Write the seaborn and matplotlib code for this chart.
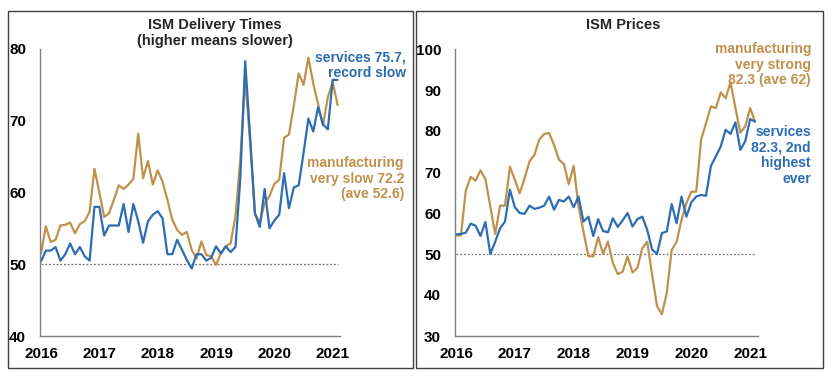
import numpy as np
import pandas as pd
import matplotlib
matplotlib.use("Agg")
import matplotlib.pyplot as plt
import seaborn as sns
from matplotlib.patches import Rectangle

sns.set_theme(style="white")
plt.rcParams['font.family'] = ['Liberation Sans', 'DejaVu Sans']
plt.rcParams['font.weight'] = 'bold'

# ---------------- data (monthly, 62 points) ----------------
year_labels = ["2016", "2017", "2018", "2019", "2020", "2021"]

deliv_mfg = [51.5, 55.3, 53.1, 53.4, 55.4, 55.5, 55.8, 54.3, 55.6, 56.0,
             57.3, 63.3, 60.0, 56.6, 57.1, 59.0, 61.0, 60.5, 61.1, 61.9,
             68.2, 62.0, 64.4, 61.1, 63.1, 61.5, 59.0, 56.2, 54.8, 54.1,
             54.5, 52.0, 50.8, 53.2, 51.3, 51.1, 49.9, 51.5, 52.5, 52.9,
             56.7, 64.6, 76.0, 67.0, 57.1, 55.8, 58.5, 59.5, 61.2, 61.8,
             67.6, 68.1, 72.1, 76.6, 75.0, 78.8, 75.2, 72.3, 69.4, 73.3,
             75.4, 72.2]
deliv_svc = [50.4, 51.9, 51.9, 52.4, 50.5, 51.4, 52.9, 51.4, 52.4, 51.1,
             50.5, 58.0, 58.0, 54.0, 55.4, 55.4, 55.4, 58.4, 54.5, 58.4,
             56.0, 53.0, 56.0, 56.9, 57.4, 56.4, 51.4, 51.4, 53.4, 52.0,
             50.6, 49.4, 51.4, 51.4, 50.5, 50.9, 52.5, 51.5, 52.5, 51.7,
             52.4, 62.0, 78.3, 68.0, 57.1, 55.2, 60.5, 55.0, 56.1, 56.9,
             62.7, 57.8, 60.7, 61.0, 65.5, 70.3, 68.5, 71.9, 69.5, 68.8,
             75.7, 75.7]
price_mfg = [54.5, 54.5, 65.5, 68.8, 67.9, 70.4, 68.3, 61.6, 54.9, 61.8,
             61.8, 71.3, 68.1, 64.8, 68.5, 72.6, 74.2, 77.9, 79.3, 79.5,
             76.6, 73.0, 72.0, 67.0, 71.5, 61.6, 55.5, 49.5, 49.4, 54.1,
             50.0, 53.0, 47.8, 45.1, 45.7, 49.4, 45.5, 46.6, 51.4, 53.0,
             45.0, 37.3, 35.3, 40.6, 51.0, 53.0, 58.3, 62.4, 65.2, 65.2,
             77.9, 81.9, 86.0, 85.6, 89.4, 88.0, 91.9, 85.6, 79.6, 81.1,
             85.6, 82.3]
price_svc = [54.8, 54.9, 55.2, 57.4, 56.9, 54.4, 57.8, 50.0, 53.0, 56.3,
             57.9, 65.7, 61.4, 60.0, 59.8, 61.8, 61.0, 61.3, 61.8, 64.0,
             60.8, 63.2, 62.8, 64.0, 61.4, 64.0, 57.9, 59.1, 54.4, 58.5,
             55.6, 55.3, 58.7, 56.6, 58.2, 60.0, 56.7, 58.5, 59.1, 55.9,
             51.1, 50.0, 55.1, 55.5, 62.2, 57.5, 64.0, 59.1, 62.6, 64.0,
             64.4, 64.2, 71.5, 73.8, 76.2, 80.3, 79.3, 82.1, 75.4, 77.5,
             82.9, 82.3]
neutral = 50

ORANGE = "#C0914B"
BLUE = "#2D6DB2"

idx = np.arange(len(deliv_mfg))
df_deliv = pd.DataFrame({"i": np.concatenate([idx, idx]),
                         "v": deliv_mfg + deliv_svc,
                         "s": ["mfg"] * len(idx) + ["svc"] * len(idx)})
df_price = pd.DataFrame({"i": np.concatenate([idx, idx]),
                         "v": price_mfg + price_svc,
                         "s": ["mfg"] * len(idx) + ["svc"] * len(idx)})

W, H = 832, 377
fig = plt.figure(figsize=(W / 100, H / 100), dpi=100)

def fx(px):
    return px / W

def fy(py):
    return 1 - py / H

# panel frames
for (x0, x1) in [(8, 413), (416, 823)]:
    fig.patches.append(Rectangle((fx(x0), fy(368)), fx(x1 - x0), (368 - 11) / H,
                                 transform=fig.transFigure, fill=False,
                                 edgecolor="#404040", linewidth=1.0))

ax1 = fig.add_axes([fx(40), fy(336), fx(300), 287 / H])
ax2 = fig.add_axes([fx(455), fy(336), fx(302.5), 287 / H])

pal = {"mfg": ORANGE, "svc": BLUE}
for ax, df in [(ax1, df_deliv), (ax2, df_price)]:
    sns.lineplot(data=df, x="i", y="v", hue="s", palette=pal, ax=ax,
                 linewidth=1.6, legend=False)
    ax.hlines(neutral, 0, len(idx) - 1, colors="#707070", linestyles=(0, (1.5, 1.5)),
              linewidth=0.9, zorder=0)
    ax.set_xlim(-0.2, 61.5)
    ax.set_xticks(np.arange(0, 61, 12))
    ax.set_xticklabels(year_labels)
    ax.set_xlabel("")
    ax.set_ylabel("")
    for sp in ["top", "right"]:
        ax.spines[sp].set_visible(False)
    for sp in ["left", "bottom"]:
        ax.spines[sp].set_color("#7f7f7f")
        ax.spines[sp].set_linewidth(1.0)
    ax.tick_params(axis="both", length=0, labelsize=11, colors="black")
    ax.tick_params(axis="x", pad=8)
    ax.tick_params(axis="y", pad=10)
    for lab in ax.get_xticklabels() + ax.get_yticklabels():
        lab.set_fontweight("bold")
    ax.set_facecolor("none")

ax1.set_ylim(40, 80)
ax1.set_yticks([40, 50, 60, 70, 80])
ax2.set_ylim(30, 100)
ax2.set_yticks([30, 40, 50, 60, 70, 80, 90, 100])

# titles
fig.text(fx(215), fy(25), "ISM Delivery Times", ha="center", va="center",
         fontsize=10.5, fontweight="bold")
fig.text(fx(215), fy(41), "(higher means slower)", ha="center", va="center",
         fontsize=10.5, fontweight="bold")
fig.text(fx(623), fy(25), "ISM Prices", ha="center", va="center",
         fontsize=10.5, fontweight="bold")

# annotations
fig.text(fx(406), fy(50), "services 75.7,\nrecord slow", ha="right", va="top",
         fontsize=10, fontweight="bold", color=BLUE, linespacing=1.15)
fig.text(fx(404), fy(156), "manufacturing\nvery slow 72.2\n(ave 52.6)", ha="right",
         va="top", fontsize=10, fontweight="bold", color=ORANGE, linespacing=1.15)
fig.text(fx(811), fy(42), "manufacturing\nvery strong\n82.3 (ave 62)", ha="right",
         va="top", fontsize=10, fontweight="bold", color=ORANGE, linespacing=1.15)
fig.text(fx(811), fy(125), "services\n82.3, 2nd\nhighest\never", ha="right",
         va="top", fontsize=10, fontweight="bold", color=BLUE, linespacing=1.15)

fig.savefig("out.png", dpi=100)
